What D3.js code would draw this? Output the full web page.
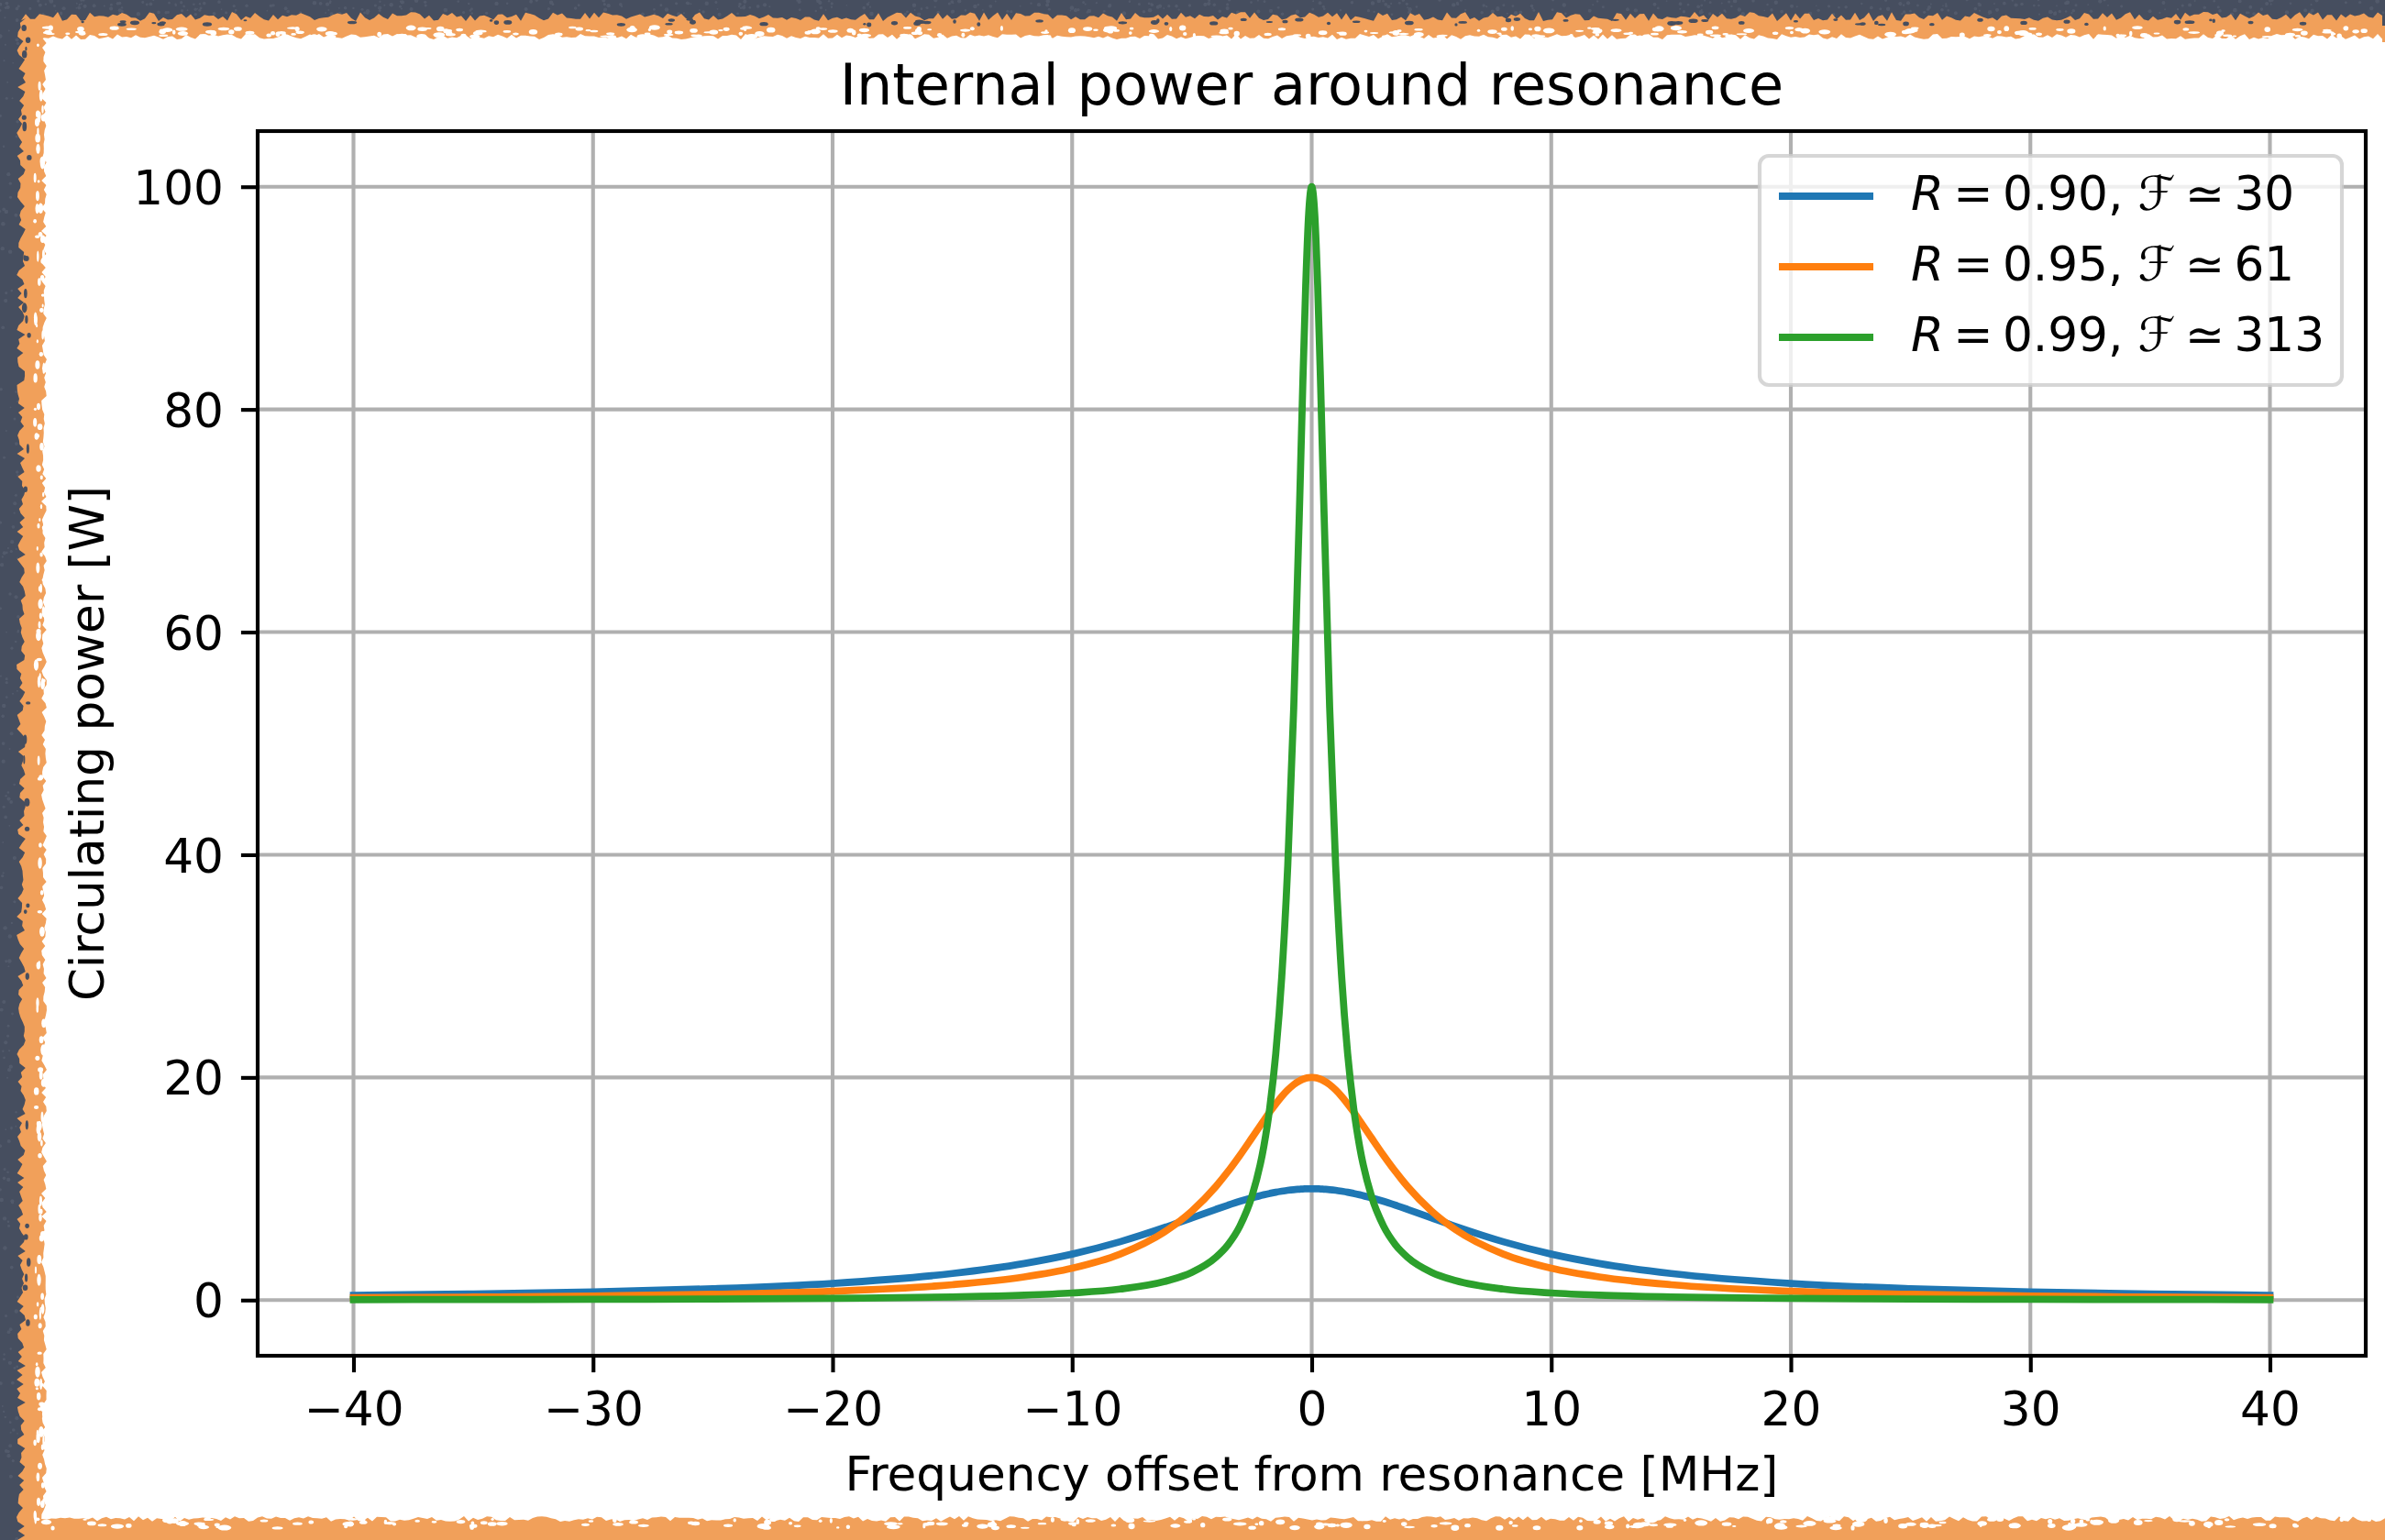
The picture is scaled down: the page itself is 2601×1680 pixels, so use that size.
<!DOCTYPE html>
<html>
<head>
<meta charset="utf-8">
<script src="https://cdn.jsdelivr.net/npm/d3@7"></script>
<style>
  html, body { margin: 0; padding: 0; background: #ffffff; overflow: hidden; }
  #chart svg { display: block; position: fixed; left: 0; top: 0; }
  svg text { font-family: "DejaVu Sans", sans-serif; fill: #000; }
</style>
</head>
<body>
<div id="chart"></div>
<script>
// frequency offsets [MHz] and circulating power [W]
var offsets = [-40, -35, -30, -25, -20, -15, -12, -10, -8, -6, -5, -4, -3.5, -3, -2.5, -2, -1.75, -1.5, -1.25, -1, -0.75, -0.5, -0.375, -0.25, -0.125,
  0, 0.125, 0.25, 0.375, 0.5, 0.75, 1, 1.25, 1.5, 1.75, 2, 2.5, 3, 3.5, 4, 5, 6, 8, 10, 12, 15, 20, 25, 30, 35, 40];

var powerR90 = [0.43, 0.55, 0.73, 1.02, 1.50, 2.39, 3.29, 4.13, 5.24, 6.62, 7.38, 8.15, 8.52, 8.87, 9.18, 9.46, 9.58, 9.69, 9.78, 9.86, 9.92, 9.96, 9.98, 9.99, 10.00,
  10, 10.00, 9.99, 9.98, 9.96, 9.92, 9.86, 9.78, 9.69, 9.58, 9.46, 9.18, 8.87, 8.52, 8.15, 7.38, 6.62, 5.24, 4.13, 3.29, 2.39, 1.50, 1.02, 0.73, 0.55, 0.43];

var powerR95 = [0.21, 0.27, 0.37, 0.52, 0.80, 1.38, 2.08, 2.86, 4.13, 6.33, 8.00, 10.20, 11.53, 12.99, 14.55, 16.13, 16.90, 17.62, 18.29, 18.87, 19.35, 19.70, 19.83, 19.93, 19.98,
  20, 19.98, 19.93, 19.83, 19.70, 19.35, 18.87, 18.29, 17.62, 16.90, 16.13, 14.55, 12.99, 11.53, 10.20, 8.00, 6.33, 4.13, 2.86, 2.08, 1.38, 0.80, 0.52, 0.37, 0.27, 0.21];

var powerR99 = [0.04, 0.05, 0.07, 0.10, 0.16, 0.28, 0.44, 0.64, 0.99, 1.75, 2.50, 3.85, 4.96, 6.64, 9.29, 13.79, 17.28, 22.14, 29.05, 39.01, 53.21, 71.90, 82.0, 91.10, 97.62,
  100, 97.62, 91.10, 82.0, 71.90, 53.21, 39.01, 29.05, 22.14, 17.28, 13.79, 9.29, 6.64, 4.96, 3.85, 2.50, 1.75, 0.99, 0.64, 0.44, 0.28, 0.16, 0.10, 0.07, 0.05, 0.04];

var reflectivity = ["0.90", "0.95", "0.99"];
var finesse = ["30", "61", "313"];
var colors = ["#1f77b4", "#ff7f0e", "#2ca02c"];

var xTicks = [-40, -30, -20, -10, 0, 10, 20, 30, 40];
var yTicks = [0, 20, 40, 60, 80, 100];

var width = 2601,
    height = 1680,
    box = { left: 281, top: 143, right: 2580, bottom: 1479 },
    pt = 5.17; // px per point

var svg = d3.select("#chart").append("svg")
    .attr("width", width)
    .attr("height", height);

// ---- decorative torn-paper frame (jitter from a small seeded generator)
var seed = 12345;
function rnd() {
  seed = (seed * 16807) % 2147483647;
  return seed / 2147483647;
}
function jag(base, amp) { return base + (rnd() - 0.5) * 2 * amp; }

// jagged top edge, optional jagged bottom edge, jagged left edge; right side straight
function tornPath(x0, y0, x1, y1, bottomEdge, amp) {
  var p = [], s;
  for (s = x0; s <= x1; s += 5) p.push([s, jag(y0, amp)]);
  if (bottomEdge) {
    for (s = x1; s >= x0; s -= 5) p.push([s, jag(y1, amp)]);
  } else {
    p.push([x1, y1]);
    p.push([x0, y1]);
  }
  for (s = y1; s >= y0; s -= 5) p.push([jag(x0, amp), s]);
  return "M" + p.join("L") + "Z";
}

svg.append("rect").attr("width", width).attr("height", height).attr("fill", "#464e5f");
var board = svg.append("g").attr("fill", "#5b6374").attr("opacity", 0.6);
for (var i = 0; i < 600; i++) {
  var onTop = rnd() < 0.75;
  board.append("circle")
      .attr("cx", onTop ? rnd() * width : rnd() * 20)
      .attr("cy", onTop ? rnd() * 16 : rnd() * height)
      .attr("r", 0.8 + rnd() * 1.5);
}

svg.append("path")
    .attr("d", tornPath(23, 18, width, height, false, 5))
    .attr("fill", "#f1a05a");
svg.append("rect")
    .attr("x", 34).attr("y", 28)
    .attr("width", width - 34).attr("height", height - 28)
    .attr("fill", "#f1a05a");

var flecks = svg.append("g").attr("fill", "#464e5f");
for (i = 0; i < 100; i++) {
  var t = rnd() < 0.7;
  flecks.append("ellipse")
      .attr("cx", t ? 30 + rnd() * (width - 60) : 26 + rnd() * 6)
      .attr("cy", t ? 21 + rnd() * 6 : 30 + rnd() * (height - 60))
      .attr("rx", t ? 1.5 + rnd() * 4 : 1 + rnd() * 2)
      .attr("ry", t ? 1 + rnd() * 1.5 : 1.5 + rnd() * 4);
}

svg.append("path")
    .attr("d", tornPath(48, 40, width, 1657, true, 3))
    .attr("fill", "#ffffff");
svg.append("rect")
    .attr("x", 54).attr("y", 46)
    .attr("width", width - 54).attr("height", 1606)
    .attr("fill", "#ffffff");

var specks = svg.append("g").attr("fill", "#ffffff");
for (i = 0; i < 600; i++) {
  var side = rnd();
  var sx, sy, rx, ry;
  if (side < 0.4) { sx = 48 + rnd() * (width - 60); sy = 30 + rnd() * 10; rx = 1.5 + rnd() * 5; ry = 1 + rnd() * 2; }
  else if (side < 0.75) { sx = 48 + rnd() * (width - 60); sy = 1657 + rnd() * 10; rx = 1.5 + rnd() * 6; ry = 1 + rnd() * 2.2; }
  else { sx = 38 + rnd() * 10; sy = 40 + rnd() * 1620; rx = 1 + rnd() * 2; ry = 1.5 + rnd() * 5; }
  specks.append("ellipse").attr("cx", sx).attr("cy", sy).attr("rx", rx).attr("ry", ry);
}

// ---- scales
var x = d3.scaleLinear().domain([-44, 44]).range([box.left, box.right]);
var y = d3.scaleLinear().domain([-5, 105]).range([box.bottom, box.top]);

// grid
var grid = svg.append("g").attr("class", "grid")
    .attr("stroke", "#b0b0b0").attr("stroke-width", 0.8 * pt);
grid.selectAll(".gx").data(xTicks).enter().append("line")
    .attr("x1", function(d) { return x(d); }).attr("x2", function(d) { return x(d); })
    .attr("y1", box.top).attr("y2", box.bottom);
grid.selectAll(".gy").data(yTicks).enter().append("line")
    .attr("y1", function(d) { return y(d); }).attr("y2", function(d) { return y(d); })
    .attr("x1", box.left).attr("x2", box.right);

// curves
var series = [powerR90, powerR95, powerR99];
var line = d3.line()
    .x(function(d) { return x(d[0]); })
    .y(function(d) { return y(d[1]); })
    .curve(d3.curveMonotoneX);

svg.append("g").selectAll("path").data(series).enter().append("path")
    .attr("d", function(s) { return line(d3.zip(offsets, s)); })
    .attr("fill", "none")
    .attr("stroke", function(d, i) { return colors[i]; })
    .attr("stroke-width", 1.5 * pt)
    .attr("stroke-linejoin", "round")
    .attr("stroke-linecap", "square");

// axes
var fontSize = 10 * pt;
var xAxis = svg.append("g")
    .attr("transform", "translate(0," + box.bottom + ")")
    .call(d3.axisBottom(x).tickValues(xTicks).tickSize(3.5 * pt).tickPadding(21).tickFormat(d3.format("d")));
var yAxis = svg.append("g")
    .attr("transform", "translate(" + box.left + ",0)")
    .call(d3.axisLeft(y).tickValues(yTicks).tickSize(3.5 * pt).tickPadding(19).tickFormat(d3.format("d")));

[xAxis, yAxis].forEach(function(a) {
  a.select(".domain").remove();
  a.selectAll(".tick line").attr("stroke", "#000").attr("stroke-width", 0.8 * pt);
  a.selectAll(".tick text")
    .attr("font-family", "DejaVu Sans")
    .attr("font-size", fontSize)
    .attr("fill", "#000");
});
yAxis.selectAll(".tick text").attr("dy", "0.36em");

// spines
svg.append("rect")
    .attr("x", box.left).attr("y", box.top)
    .attr("width", box.right - box.left).attr("height", box.bottom - box.top)
    .attr("fill", "none").attr("stroke", "#000").attr("stroke-width", 0.8 * pt)
    .attr("stroke-linejoin", "miter");

// labels
var cx = (box.left + box.right) / 2;
svg.append("text")
    .attr("x", cx).attr("y", 114)
    .attr("text-anchor", "middle")
    .attr("font-size", 12 * pt)
    .text("Internal power around resonance");

svg.append("text")
    .attr("x", cx).attr("y", 1626)
    .attr("text-anchor", "middle")
    .attr("font-size", fontSize)
    .text("Frequency offset from resonance [MHz]");

svg.append("text")
    .attr("transform", "translate(113," + (box.top + box.bottom) / 2 + ") rotate(-90)")
    .attr("text-anchor", "middle")
    .attr("font-size", fontSize)
    .text("Circulating power [W]");

// legend
var legend = svg.append("g");
legend.append("rect")
    .attr("x", 1919).attr("y", 170)
    .attr("width", 2554 - 1919).attr("height", 250)
    .attr("rx", 10).attr("ry", 10)
    .attr("fill", "#ffffff").attr("fill-opacity", 0.8)
    .attr("stroke", "#cccccc").attr("stroke-opacity", 0.8)
    .attr("stroke-width", 0.8 * pt);

var rows = legend.selectAll(".row").data(reflectivity).enter().append("g")
    .attr("transform", function(d, i) { return "translate(0," + (229 + i * 77) + ")"; });

rows.append("line")
    .attr("x1", 1940).attr("x2", 2043)
    .attr("y1", -15).attr("y2", -15)
    .attr("stroke", function(d, i) { return colors[i]; })
    .attr("stroke-width", 1.5 * pt)
    .attr("stroke-linecap", "butt");

var thin = "\u2009";
rows.append("text")
    .attr("x", 2084)
    .attr("font-size", fontSize)
    .each(function(d, i) {
      var t = d3.select(this);
      t.append("tspan").attr("font-style", "italic").text("R");
      t.append("tspan").text(thin + "=" + thin + d + ", ");
      t.append("tspan").attr("font-style", "italic").text("\u2131");
      t.append("tspan").text(thin + "\u2243" + thin + finesse[i]);
    });
</script>
</body>
</html>
